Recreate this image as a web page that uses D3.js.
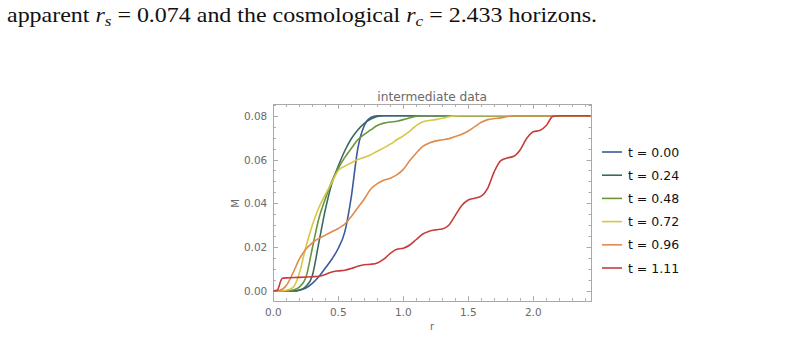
<!DOCTYPE html>
<html>
<head>
<meta charset="utf-8">
<script src="https://cdn.jsdelivr.net/npm/d3@7"></script>
<style>
  body { margin: 0; background: #fff; }
  svg { display: block; }
</style>
</head>
<body>
<svg id="viz"></svg>
<script>
// values: [r, M] pairs for each time slice
const labels = ["t = 0.00", "t = 0.24", "t = 0.48", "t = 0.72", "t = 0.96", "t = 1.11"];
const colors = ["#3d5a9e", "#3b6b5f", "#69963d", "#d6c743", "#df8a4c", "#c63c3a"];

const t000 = [[0,0],[0.15,0],[0.2,0.0003],[0.25,0.0013],[0.3,0.0035],[0.35,0.0065],[0.4,0.0105],[0.45,0.0145],[0.5,0.0195],[0.55,0.027],[0.6,0.043],[0.65,0.065],[0.7,0.0755],[0.75,0.0792],[0.8,0.08],[2.44,0.08]];
const t024 = [[0,0],[0.15,0],[0.2,0.0004],[0.25,0.002],[0.3,0.007],[0.35,0.022],[0.4,0.037],[0.45,0.049],[0.5,0.057],[0.55,0.064],[0.6,0.0695],[0.65,0.0735],[0.7,0.0765],[0.75,0.0785],[0.8,0.0797],[0.85,0.08],[2.44,0.08]];
const t048 = [[0,0],[0.1,0],[0.15,0.0004],[0.2,0.0018],[0.25,0.006],[0.3,0.0195],[0.35,0.033],[0.4,0.042],[0.45,0.05],[0.5,0.056],[0.55,0.061],[0.6,0.065],[0.65,0.069],[0.7,0.0715],[0.75,0.0735],[0.8,0.0755],[0.85,0.0766],[0.9,0.0771],[0.95,0.0775],[1.0,0.0782],[1.05,0.0791],[1.1,0.0798],[1.15,0.08],[2.44,0.08]];
const t072 = [[0,0],[0.05,0],[0.1,0.0003],[0.15,0.0015],[0.2,0.008],[0.25,0.02],[0.3,0.03],[0.35,0.038],[0.4,0.044],[0.45,0.0495],[0.5,0.055],[0.55,0.057],[0.6,0.0585],[0.65,0.06],[0.7,0.061],[0.75,0.0622],[0.8,0.0638],[0.85,0.0653],[0.9,0.067],[0.95,0.069],[1.0,0.0708],[1.05,0.073],[1.1,0.0755],[1.15,0.0772],[1.2,0.0778],[1.25,0.0782],[1.3,0.0788],[1.35,0.0795],[1.4,0.0799],[1.45,0.08],[2.44,0.08]];
const t096 = [[0,0],[0.05,0.0003],[0.1,0.0025],[0.15,0.008],[0.2,0.0145],[0.25,0.019],[0.3,0.022],[0.35,0.024],[0.4,0.0255],[0.45,0.027],[0.5,0.0285],[0.55,0.0305],[0.6,0.034],[0.65,0.038],[0.7,0.042],[0.75,0.0465],[0.8,0.049],[0.85,0.0505],[0.9,0.0515],[0.95,0.053],[1.0,0.0555],[1.05,0.0595],[1.1,0.063],[1.15,0.066],[1.2,0.0675],[1.25,0.0685],[1.3,0.069],[1.35,0.0695],[1.4,0.0705],[1.45,0.0715],[1.5,0.073],[1.55,0.075],[1.6,0.077],[1.65,0.0782],[1.7,0.0787],[1.75,0.079],[1.8,0.0796],[1.85,0.08],[2.44,0.08]];
const t111 = [[0,0],[0.03,0.0003],[0.06,0.005],[0.07,0.0058],[0.1,0.006],[0.2,0.0062],[0.3,0.0065],[0.35,0.0067],[0.4,0.0075],[0.45,0.0087],[0.5,0.0092],[0.55,0.0095],[0.6,0.0103],[0.65,0.0113],[0.7,0.012],[0.75,0.0122],[0.8,0.0128],[0.85,0.0145],[0.9,0.0172],[0.95,0.019],[1.0,0.0195],[1.05,0.021],[1.1,0.0235],[1.15,0.026],[1.2,0.0273],[1.25,0.0279],[1.3,0.0283],[1.35,0.03],[1.4,0.0345],[1.45,0.039],[1.5,0.0415],[1.55,0.0423],[1.6,0.0433],[1.65,0.047],[1.7,0.0545],[1.75,0.0595],[1.8,0.0607],[1.85,0.0615],[1.9,0.0645],[1.95,0.0697],[2.0,0.0727],[2.05,0.0732],[2.1,0.0755],[2.15,0.0797],[2.2,0.08],[2.44,0.08]];
const series = [t000, t024, t048, t072, t096, t111];

const xTicks = [0, 0.5, 1.0, 1.5, 2.0];
const yTicks = [0, 0.02, 0.04, 0.06, 0.08];

const W = 806, H = 338;
const svg = d3.select("#viz").attr("width", W).attr("height", H);

// caption line above the figure (stretched to the width of the LaTeX line)
const cap = svg.append("text")
    .attr("x", 7).attr("y", 22)
    .attr("textLength", 590).attr("lengthAdjust", "spacingAndGlyphs")
    .style("font-family", "'Liberation Serif', serif")
    .style("font-size", "21px")
    .attr("fill", "#111");
cap.append("tspan").text("apparent ");
cap.append("tspan").style("font-style", "italic").text("r");
cap.append("tspan").attr("dy", 4).style("font-size", "15px").style("font-style", "italic").text("s");
cap.append("tspan").attr("dy", -4).text(" = 0.074 and the cosmological ");
cap.append("tspan").style("font-style", "italic").text("r");
cap.append("tspan").attr("dy", 4).style("font-size", "15px").style("font-style", "italic").text("c");
cap.append("tspan").attr("dy", -4).text(" = 2.433 horizons.");

// plot frame
const pLeft = 273.3, pRight = 591, pTop = 104.3, pBottom = 300.7;
const x = d3.scaleLinear().domain([0, 2.444]).range([pLeft, pRight]);
const y = d3.scaleLinear().domain([-0.00443, 0.0852]).range([pBottom, pTop]);

const frameColor = "#a8a8a8", textColor = "#6a6a6a";
const font = "'DejaVu Sans', sans-serif";

svg.append("defs").append("clipPath").attr("id", "clip")
  .append("rect").attr("x", pLeft).attr("y", pTop).attr("width", pRight - pLeft).attr("height", pBottom - pTop);

// ticks, mirrored on all four sides
const tickG = svg.append("g").attr("stroke", frameColor).attr("stroke-width", 1);
const xMinor = d3.range(0, 2.45, 0.1);
const yMinor = d3.range(0, 0.0851, 0.005);
xMinor.forEach(v => {
  const major = xTicks.some(t => Math.abs(t - v) < 1e-6);
  const len = major ? 4.5 : 2.5;
  const px = Math.round(x(v)) + 0.5;
  tickG.append("line").attr("x1", px).attr("x2", px).attr("y1", pBottom).attr("y2", pBottom - len);
  tickG.append("line").attr("x1", px).attr("x2", px).attr("y1", pTop).attr("y2", pTop + len);
});
yMinor.forEach(v => {
  const major = yTicks.some(t => Math.abs(t - v) < 1e-6);
  const len = major ? 4.5 : 2.5;
  const py = Math.round(y(v)) + 0.5;
  tickG.append("line").attr("y1", py).attr("y2", py).attr("x1", pLeft).attr("x2", pLeft + len);
  tickG.append("line").attr("y1", py).attr("y2", py).attr("x1", pRight).attr("x2", pRight - len);
});

svg.append("rect")
    .attr("x", Math.round(pLeft) + 0.5).attr("y", Math.round(pTop) + 0.5)
    .attr("width", Math.round(pRight) - Math.round(pLeft)).attr("height", Math.round(pBottom) - Math.round(pTop))
    .attr("fill", "none").attr("stroke", frameColor);

// tick labels
svg.append("g").selectAll("text").data(xTicks).join("text")
    .attr("x", d => x(d)).attr("y", pBottom + 15)
    .attr("text-anchor", "middle")
    .style("font", `10.5px ${font}`).attr("fill", textColor)
    .text(d => d.toFixed(1));
svg.append("g").selectAll("text").data(yTicks).join("text")
    .attr("x", pLeft - 6).attr("y", d => y(d) + 4)
    .attr("text-anchor", "end")
    .style("font", `10.5px ${font}`).attr("fill", textColor)
    .text(d => d.toFixed(2));

// axis labels and title
svg.append("text").attr("x", (pLeft + pRight) / 2).attr("y", 101)
    .attr("text-anchor", "middle").style("font", `12.2px ${font}`).attr("fill", textColor)
    .text("intermediate data");
svg.append("text").attr("x", (pLeft + pRight) / 2).attr("y", 330)
    .attr("text-anchor", "middle").style("font", `10px ${font}`).attr("fill", textColor)
    .text("r");
svg.append("text").attr("transform", `translate(239,${y(0.04)}) rotate(-90)`)
    .attr("text-anchor", "middle").style("font", `10px ${font}`).attr("fill", textColor)
    .text("M");

// curves
const line = d3.line().x(d => x(d[0])).y(d => y(d[1])).curve(d3.curveMonotoneX);
svg.append("g").attr("clip-path", "url(#clip)")
  .selectAll("path").data(series).join("path")
    .attr("d", line)
    .attr("fill", "none")
    .attr("stroke", (d, i) => colors[i])
    .attr("stroke-width", 1.6)
    .attr("stroke-linejoin", "round");

// legend
const legend = svg.append("g").selectAll("g").data(labels).join("g")
    .attr("transform", (d, i) => `translate(602,${152 + i * 23.2})`);
legend.append("line").attr("x1", 0).attr("x2", 20).attr("y1", 0).attr("y2", 0)
    .attr("stroke", (d, i) => colors[i]).attr("stroke-width", 1.6);
legend.append("text").attr("x", 26).attr("y", 4.5)
    .style("font", `12.5px ${font}`).attr("fill", "#111")
    .text(d => d);
</script>
</body>
</html>
